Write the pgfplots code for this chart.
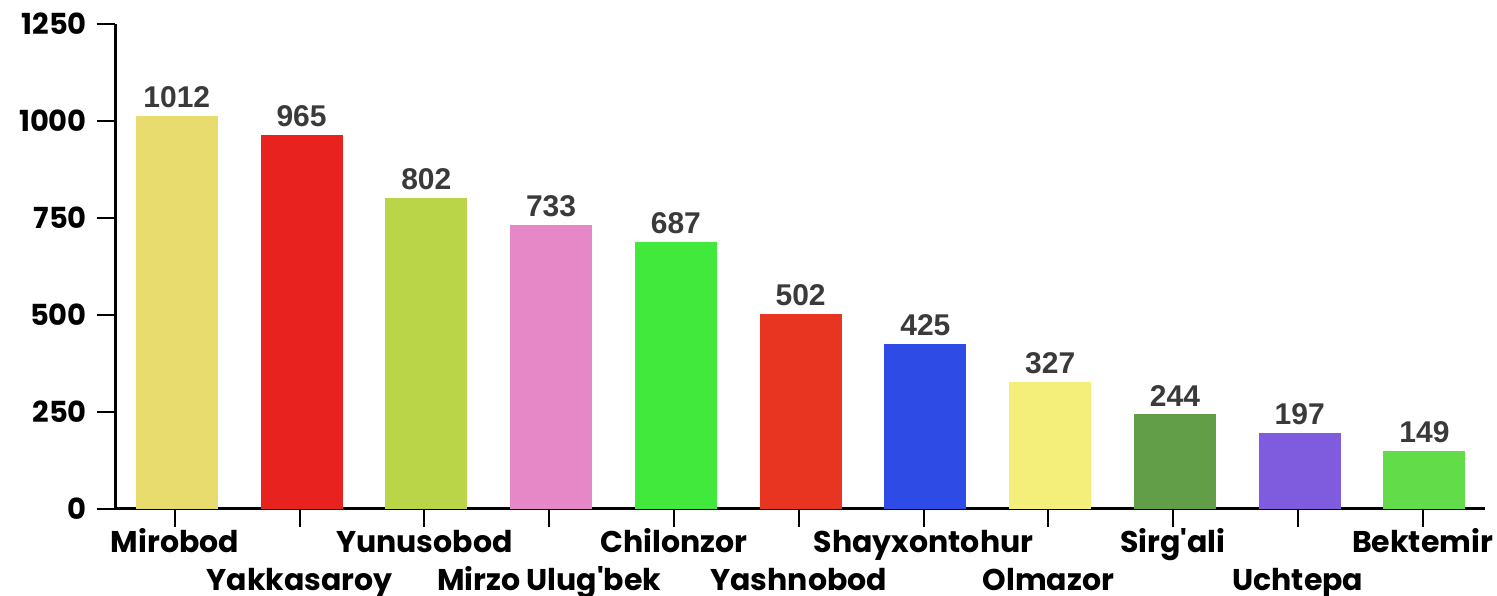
\documentclass[border=0pt]{standalone}
\usepackage{pgfplots}
\pgfplotsset{compat=1.18}
\usepackage{fontspec}
\setmainfont{Poppins}
\newfontfamily\popplain{Poppins}[Ligatures=ResetAll]
\newfontfamily\valfont{Liberation Sans}
\definecolor{c1}{HTML}{E7DC6D}
\definecolor{c2}{HTML}{E8221F}
\definecolor{c3}{HTML}{BAD548}
\definecolor{c4}{HTML}{E688C8}
\definecolor{c5}{HTML}{40E93C}
\definecolor{c6}{HTML}{E73522}
\definecolor{c7}{HTML}{2E4BE6}
\definecolor{c8}{HTML}{F4EE7B}
\definecolor{c9}{HTML}{629D48}
\definecolor{c10}{HTML}{7E5CDD}
\definecolor{c11}{HTML}{62DC48}
\definecolor{valgray}{HTML}{3A3A3A}
\newcommand{\ap}{{\popplain\bfseries'}}
\begin{document}
\begin{tikzpicture}
\useasboundingbox (0,0) rectangle (1497pt,596pt);
\begin{axis}[
  at={(115pt,87pt)}, anchor=south west,
  scale only axis, width=1370pt, height=485pt,
  xmin=-0.48, xmax=10.5, ymin=0, ymax=1250,
  axis lines=left,
  axis line style={-, line width=3pt},
  tick style={line width=2pt, black},
  tick align=outside,
  major tick length=18pt,
  xtick={0,...,10},
  ytick={0,250,500,750,1000,1250},
  xticklabels={{\strut Mirobod},{\strut\\\strut Yakkasaroy},{\strut Yunusobod},{\strut\\\strut Mirzo Ulug\ap bek},{\strut Chilonzor},{\strut\\\strut Yashnobod},{\strut Shayxontohur},{\strut\\\strut Olmazor},{\strut Sirg\ap ali},{\strut\\\strut Uchtepa},{\strut Bektemir}},
  xticklabel style={align=center, anchor=north, inner sep=0pt, yshift=1pt, font=\fontsize{30}{38}\selectfont\bfseries},
  yticklabel style={font=\fontsize{29}{32}\selectfont\bfseries, inner sep=0pt, xshift=-10pt},
  /pgf/number format/assume math mode=true,
  /pgf/number format/1000 sep={},
  scaled y ticks=false,
  nodes near coords,
  every node near coord/.append style={font=\valfont\fontsize{30}{34}\selectfont\bfseries, text=valgray, anchor=south, inner sep=0pt, yshift=8pt, /pgf/number format/1000 sep={}},
  clip=false,
]
\addplot[ybar, bar width=0.657, bar shift=0pt, fill=c1, draw=none] coordinates {(0.015,1012)};
\addplot[ybar, bar width=0.657, bar shift=0pt, fill=c2, draw=none] coordinates {(1.015,965)};
\addplot[ybar, bar width=0.657, bar shift=0pt, fill=c3, draw=none] coordinates {(2.015,802)};
\addplot[ybar, bar width=0.657, bar shift=0pt, fill=c4, draw=none] coordinates {(3.015,733)};
\addplot[ybar, bar width=0.657, bar shift=0pt, fill=c5, draw=none] coordinates {(4.015,687)};
\addplot[ybar, bar width=0.657, bar shift=0pt, fill=c6, draw=none] coordinates {(5.015,502)};
\addplot[ybar, bar width=0.657, bar shift=0pt, fill=c7, draw=none] coordinates {(6.015,425)};
\addplot[ybar, bar width=0.657, bar shift=0pt, fill=c8, draw=none] coordinates {(7.015,327)};
\addplot[ybar, bar width=0.657, bar shift=0pt, fill=c9, draw=none] coordinates {(8.015,244)};
\addplot[ybar, bar width=0.657, bar shift=0pt, fill=c10, draw=none] coordinates {(9.015,197)};
\addplot[ybar, bar width=0.657, bar shift=0pt, fill=c11, draw=none] coordinates {(10.015,149)};
\end{axis}
\end{tikzpicture}
\end{document}
